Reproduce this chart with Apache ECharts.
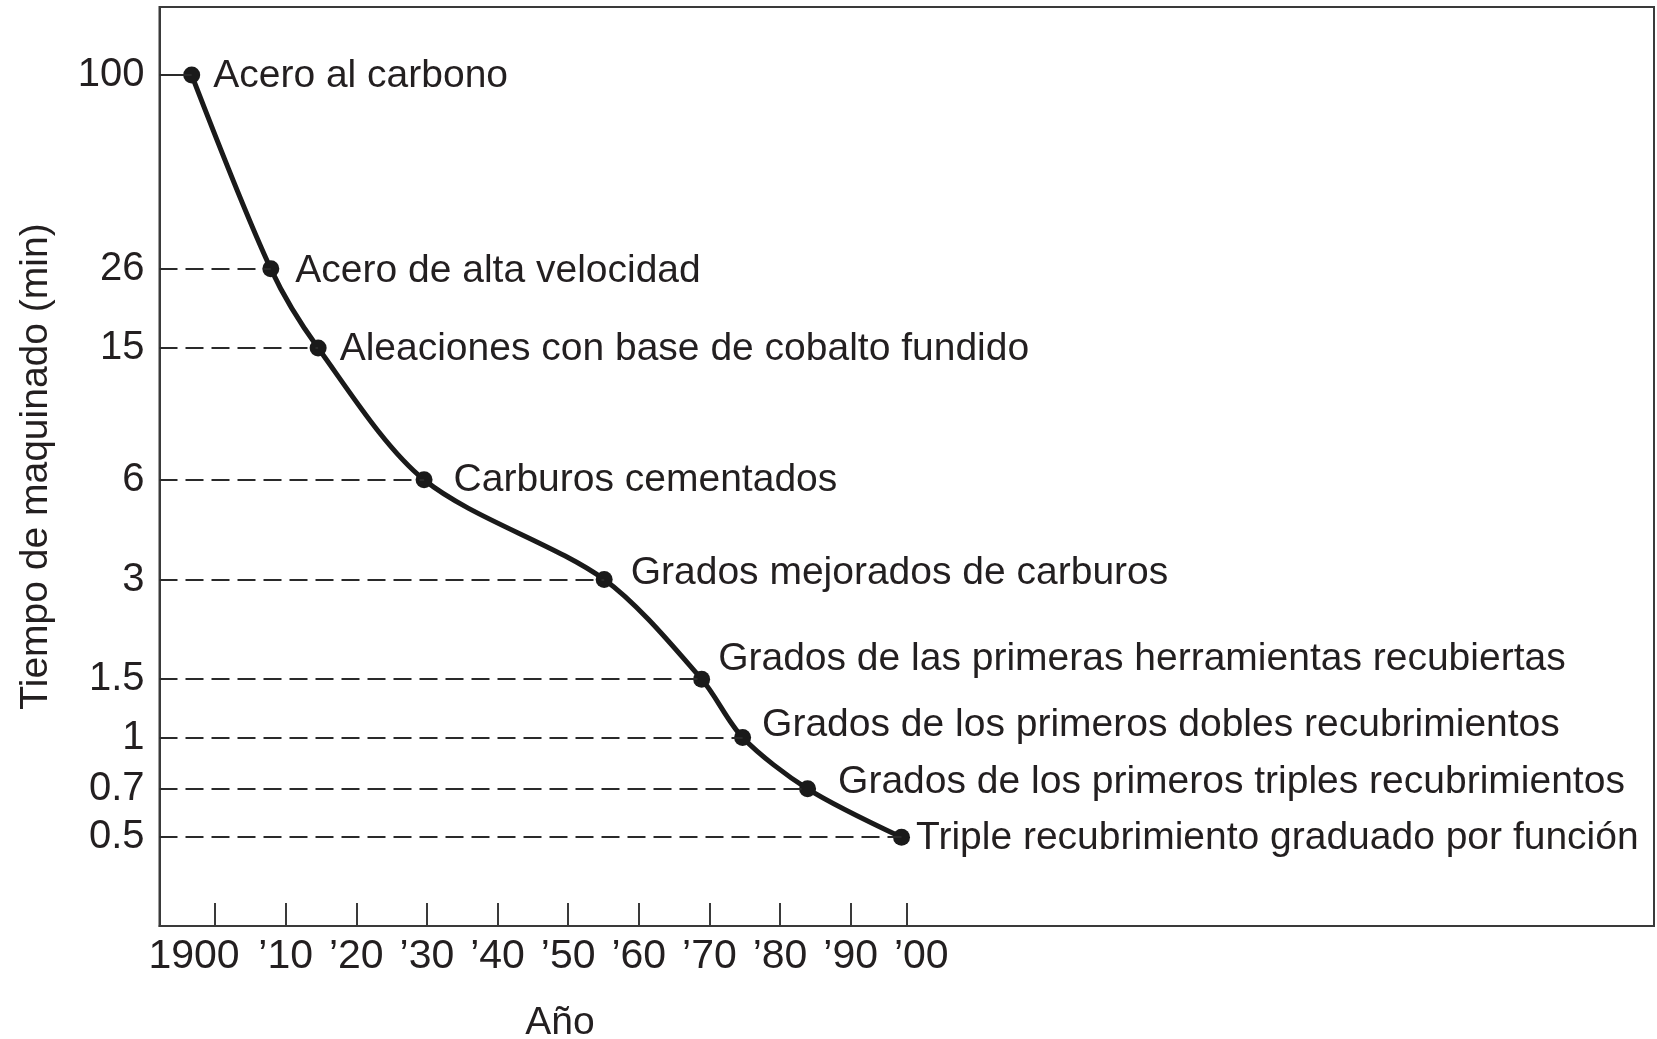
<!DOCTYPE html>
<html>
<head>
<meta charset="utf-8">
<title>Tiempo de maquinado</title>
<script src="https://cdn.jsdelivr.net/npm/echarts@6/dist/echarts.min.js"></script>
<style>
  html, body { margin: 0; padding: 0; background: #fff; }
  #chart { width: 1657px; height: 1039px; }
</style>
</head>
<body>
<div id="chart"></div>
<script>
// datos
const years = [1896.7, 1907.9, 1914.6, 1929.6, 1955.1, 1968.9, 1974.7, 1983.9, 1997.2];
const minutes = [100, 26, 15, 6, 3, 1.5, 1, 0.7, 0.5];
const materials = [
  "Acero al carbono",
  "Acero de alta velocidad",
  "Aleaciones con base de cobalto fundido",
  "Carburos cementados",
  "Grados mejorados de carburos",
  "Grados de las primeras herramientas recubiertas",
  "Grados de los primeros dobles recubrimientos",
  "Grados de los primeros triples recubrimientos",
  "Triple recubrimiento graduado por función"
];
const yTicks = [100, 26, 15, 6, 3, 1.5, 1, 0.7, 0.5];
const xTicks = [1900, 1910, 1920, 1930, 1940, 1950, 1960, 1970, 1980, 1990, 2000];
const xTickLabels = ["1900", "’10", "’20", "’30", "’40", "’50", "’60", "’70", "’80", "’90", "’00"];
// marcas del eje tal como estan dibujadas (la ultima queda corrida)
const xTickMarks = [1900, 1910, 1920, 1930, 1940, 1950, 1960, 1970, 1980, 1990, 1998];

const FONT = "'Liberation Sans', Arial, Helvetica, sans-serif";
const INK = "#231f20";
const X_MIN = 1892.14, X_MAX = 2103.74;
const Y_MIN = -0.5691, Y_MAX = 2.2056; // log10(min)

// desplazamiento de cada rotulo respecto a su punto
const labelShift = [[13, 1], [16, 2], [13, 1], [21, 0], [18, -6], [8, -20], [11, -12], [22, -7], [6, 1]];

const points = years.map((y, i) => ({
  value: [y, Math.log10(minutes[i])],
  label: { offset: labelShift[i] }
}));

const guides = years.map((y, i) => {
  const L = Math.log10(minutes[i]);
  const start = { coord: [X_MIN, L] };
  if (i === 0) start.lineStyle = { type: "solid" };
  return [start, { coord: [y, L] }];
});

const chart = echarts.init(document.getElementById("chart"));
chart.setOption({
  animation: false,
  backgroundColor: "#fff",
  grid: {
    left: 159.5,
    right: 3,
    top: 7,
    bottom: 113,
    show: true,
    borderColor: "#3a3a3a",
    borderWidth: 2
  },
  xAxis: {
    type: "value",
    min: X_MIN,
    max: X_MAX,
    axisLine: { show: true, onZero: false, lineStyle: { color: "#3a3a3a", width: 2 } },
    axisTick: {
      show: true,
      inside: true,
      length: 23,
      customValues: xTickMarks,
      lineStyle: { color: "#3a3a3a", width: 2 }
    },
    axisLabel: {
      customValues: xTicks,
      margin: 10,
      color: INK,
      fontFamily: FONT,
      fontSize: 41,
      formatter: function (v) {
        const i = Math.round((v - 1900) / 10);
        return i === 0 ? "{first|" + xTickLabels[i] + "}" : xTickLabels[i];
      },
      rich: {
        first: { fontFamily: FONT, fontSize: 41, color: INK, padding: [0, 42, 0, 0] }
      }
    },
    splitLine: { show: false }
  },
  yAxis: {
    type: "value",
    min: Y_MIN,
    max: Y_MAX,
    name: "Tiempo de maquinado (min)",
    nameLocation: "middle",
    nameGap: 104,
    nameTextStyle: { color: INK, fontFamily: FONT, fontSize: 39 },
    axisLine: { show: true, onZero: false, lineStyle: { color: "#3a3a3a", width: 2 } },
    axisTick: { show: false },
    axisLabel: {
      customValues: yTicks.map(Math.log10),
      margin: 15,
      color: INK,
      fontFamily: FONT,
      fontSize: 40,
      formatter: function (v) {
        let best = yTicks[0];
        yTicks.forEach(t => { if (Math.abs(Math.log10(t) - v) < Math.abs(Math.log10(best) - v)) best = t; });
        return String(best);
      }
    },
    splitLine: { show: false }
  },
  graphic: [{
    type: "text",
    x: 560,
    y: 1023,
    style: {
      text: "Año",
      font: "39px " + FONT,
      fill: INK,
      textAlign: "center",
      textVerticalAlign: "middle"
    }
  }],
  series: [{
    type: "line",
    data: points,
    smooth: 0.3,
    symbol: "circle",
    symbolSize: 17,
    lineStyle: { color: "#1a1a1a", width: 5 },
    itemStyle: { color: "#1a1a1a" },
    label: {
      show: true,
      position: "right",
      distance: 0,
      color: INK,
      fontFamily: FONT,
      fontSize: 39,
      formatter: p => materials[p.dataIndex]
    },
    markLine: {
      silent: true,
      symbol: ["none", "none"],
      label: { show: false },
      lineStyle: { color: "#2a2a2a", width: 2.2, type: [18, 8] },
      data: guides
    },
    z: 3
  }]
});
</script>
</body>
</html>
